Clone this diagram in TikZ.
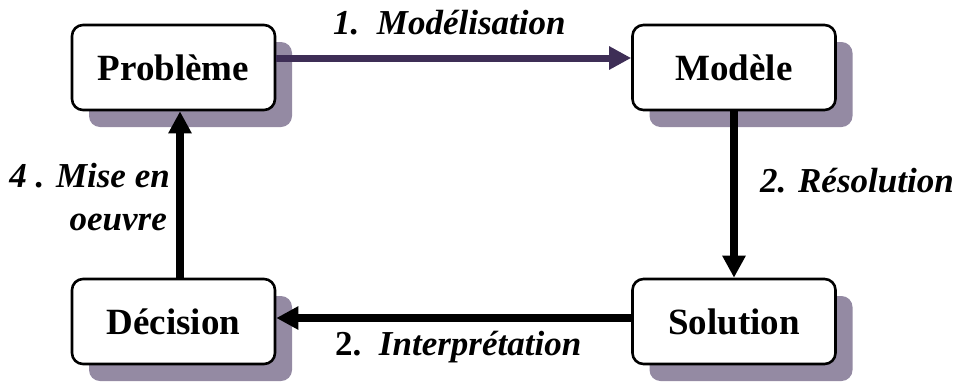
\documentclass[tikz,border=0pt]{standalone}
\usepackage{fontspec}
\setmainfont{Liberation Serif}
\usetikzlibrary{arrows.meta,shadows}
\definecolor{shadowgray}{RGB}{148,138,163}
\definecolor{linkpurple}{RGB}{62,46,86}
\begin{document}
\begin{tikzpicture}[x=1pt,y=-1pt,
  stage/.style={draw=black, line width=2.6pt, rounded corners=11pt, fill=white,
    minimum width=203pt, minimum height=85pt, inner sep=0pt,
    general shadow={fill=shadowgray, shadow xshift=17pt, shadow yshift=-17pt},
    font=\fontsize{37}{40}\selectfont\bfseries},
  link/.style={line width=7.5pt, -{Triangle[length=22pt,width=22pt]}},
  tag/.style={font=\fontsize{35}{43}\selectfont\bfseries\itshape, inner sep=0pt}
]
\useasboundingbox (0,0) rectangle (963,381);

% the four stages of the cycle
\node[stage] (P) at (173.5,67.5) {Problème};
\node[stage] (M) at (734,67.5) {Modèle};
\node[stage] (S) at (734,321.5) {Solution};
\node[stage] (D) at (173.5,321.5) {Décision};

% transitions
\draw[link, linkpurple, line width=7pt] ([yshift=9.5pt]P.east) -- ([yshift=9.5pt]M.west);
\draw[link] (M.south) -- (S.north);
\draw[link] ([yshift=3.5pt]S.west) -- ([yshift=3.5pt]D.east);
\draw[link] ([xshift=6.5pt]D.north) -- ([xshift=6.5pt]P.south);

% transition labels
\node[tag, anchor=base west] (l1) at (333,34) {1.\ \ Modélisation};
\node[tag, anchor=base west] (l2) at (760,192) {2. Résolution};
\node[tag, anchor=base east] (l4a) at (170,187) {4 . Mise en};
\node[tag, anchor=base east] (l4b) at (167,230) {oeuvre};
\node[tag, anchor=base west] (l3) at (335,355) {\upshape 2.\ \ \itshape Interprétation};
\end{tikzpicture}
\end{document}
